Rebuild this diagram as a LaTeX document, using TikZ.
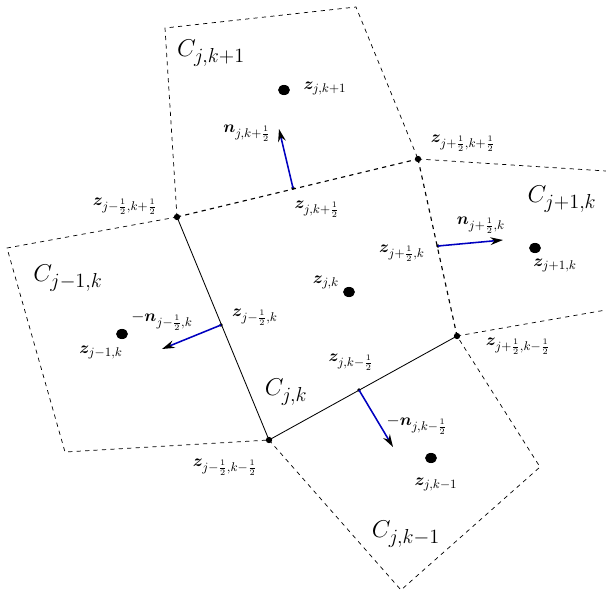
\documentclass[tikz,border=0pt]{standalone}
\usepackage{amsmath,bm}
\usetikzlibrary{arrows.meta,shapes.geometric}
\begin{document}
\begin{tikzpicture}[x=0.025cm, y=-0.025cm,
  cell/.style={dashed, line width=0.5pt},
  face/.style={dashed, thick},
  edge/.style={line width=0.6pt},
  vdot/.style={circle, fill, inner sep=0pt, minimum size=4.5pt},
  mdot/.style={circle, fill, inner sep=0pt, minimum size=2.6pt},
  cdot/.style={ellipse, fill, inner sep=0pt, minimum width=8.5pt, minimum height=7.2pt},
  lab/.style={inner sep=0pt, font=\fontsize{13}{15}\selectfont},
  big/.style={inner sep=0pt, font=\fontsize{19}{23}\selectfont},
  nrm/.style={-{Stealth[black, length=9pt, width=5.5pt]}, blue!75!black, line width=1.1pt}
]
\useasboundingbox (0,0) rectangle (606,591);

% Vertices of the central cell
\node[vdot] (vnw) at (177,217) {};
\node[vdot] (vne) at (418,159) {};
\node[vdot] (vse) at (457,336) {};
\node[vdot] (vsw) at (269,440) {};

% Outer corners of the neighbour cells
\coordinate (ntl) at (165,28);
\coordinate (ntr) at (356,7);
\coordinate (etr) at (606,171);
\coordinate (ebr) at (606,310);
\coordinate (wtl) at (7,248);
\coordinate (wbl) at (65,452);
\coordinate (sbt) at (401,590);
\coordinate (srt) at (540,467);

% Neighbour cells
\draw[cell] (vnw.center) -- (ntl) -- (ntr) -- (vne.center);
\draw[cell] (vne.center) -- (etr);
\draw[cell] (vse.center) -- (ebr);
\draw[cell] (vnw.center) -- (wtl) -- (wbl) -- (vsw.center);
\draw[cell] (vsw.center) -- (sbt) -- (srt) -- (vse.center);

% Central cell
\draw[face] (vnw.center) -- (vne.center);
\draw[face] (vne.center) -- (vse.center);
\draw[edge] (vse.center) -- (vsw.center);
\draw[edge] (vsw.center) -- (vnw.center);

% Face midpoints
\node[mdot] (mn) at (293,188) {};
\node[mdot] (me) at (438,246) {};
\node[mdot] (ms) at (359,390) {};
\node[mdot] (mw) at (221,325) {};

% Cell centres
\node[cdot] (cjk) at (349,292) {};
\node[cdot] (cn) at (284,90) {};
\node[cdot] (ce) at (535,248) {};
\node[cdot] (cw) at (122,334) {};
\node[cdot] (cs) at (431,458) {};

% Normals
\coordinate (tn) at (279,129);
\coordinate (te) at (503,240);
\coordinate (tw) at (162,349);
\coordinate (ts) at (393,447);
\draw[nrm] (mn.center) -- (tn);
\draw[nrm] (me.center) -- (te);
\draw[nrm] (mw.center) -- (tw);
\draw[nrm] (ms.center) -- (ts);

% Cell names
\node[big] (Cn) at (211,53) {$C_{j,k+1}$};
\node[big] (Ce) at (562,199) {$C_{j+1,k}$};
\node[big] (Cw) at (68,278) {$C_{j-1,k}$};
\node[big] (Cc) at (286,392) {$C_{j,k}$};
\node[big] (Cs) at (406,534) {$C_{j,k-1}$};

% Point labels
\node[lab] (lcn) at (325,88) {$\bm{z}_{j,k+1}$};
\node[lab] (lce) at (555,265) {$\bm{z}_{j+1,k}$};
\node[lab] (lcw) at (101,352) {$\bm{z}_{j-1,k}$};
\node[lab] (lcs) at (436,484) {$\bm{z}_{j,k-1}$};
\node[lab] (lcjk) at (326,282) {$\bm{z}_{j,k}$};
\node[lab] (lnw) at (125,206) {$\bm{z}_{j-\frac12,k+\frac12}$};
\node[lab] (lne) at (463,143) {$\bm{z}_{j+\frac12,k+\frac12}$};
\node[lab] (lse) at (518,346) {$\bm{z}_{j+\frac12,k-\frac12}$};
\node[lab] (lsw) at (225,467) {$\bm{z}_{j-\frac12,k-\frac12}$};
\node[lab] (lmn) at (317,209) {$\bm{z}_{j,k+\frac12}$};
\node[lab] (lme) at (402,253) {$\bm{z}_{j+\frac12,k}$};
\node[lab] (lms) at (351,362) {$\bm{z}_{j,k-\frac12}$};
\node[lab] (lmw) at (255,317) {$\bm{z}_{j-\frac12,k}$};

% Normal labels
\node[lab] (ltn) at (247,133) {$\bm{n}_{j,k+\frac12}$};
\node[lab] (lte) at (481,225) {$\bm{n}_{j+\frac12,k}$};
\node[lab] (ltw) at (162,321) {$-\bm{n}_{j-\frac12,k}$};
\node[lab] (lts) at (417,425) {$-\bm{n}_{j,k-\frac12}$};
\end{tikzpicture}
\end{document}
